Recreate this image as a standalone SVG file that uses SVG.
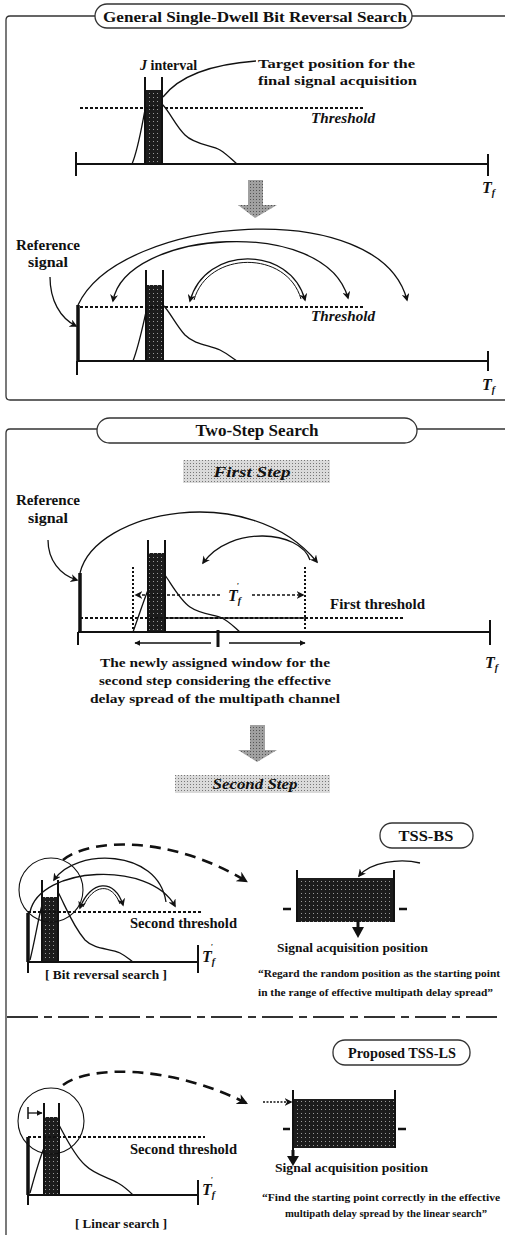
<svg xmlns="http://www.w3.org/2000/svg" width="505" height="1235" viewBox="0 0 505 1235">
<style>
.t{font-family:"Liberation Serif","Times New Roman",serif;font-weight:bold;fill:#111}
.i{font-style:italic}
.ln{fill:none;stroke:#111;stroke-width:1.3}
.ax{fill:none;stroke:#111;stroke-width:2}
.bar{fill:none;stroke:#111;stroke-width:3.5}
.th{fill:none;stroke:#111;stroke-width:2;stroke-dasharray:3 2}
.brd{fill:none;stroke:#333;stroke-width:1.3}
.pill{fill:#fff;stroke:#333;stroke-width:1.3}
.dash{fill:none;stroke:#111;stroke-width:2.6;stroke-dasharray:11 7}
</style>
<defs>
<pattern id="dk" width="4" height="4" patternUnits="userSpaceOnUse"><rect width="4" height="4" fill="#1c1c1c"/><rect x="1" y="1" width="1" height="1" fill="#9a9a9a"/></pattern>
<pattern id="gr" width="3" height="3" patternUnits="userSpaceOnUse"><rect width="3" height="3" fill="#a0a0a0"/><rect x="1" y="1" width="1" height="1" fill="#555"/></pattern>
<pattern id="lg" width="3" height="3" patternUnits="userSpaceOnUse"><rect width="3" height="3" fill="#dadada"/><rect x="1" y="1" width="1" height="1" fill="#777"/></pattern>
<marker id="ah" viewBox="0 0 10 10" refX="8" refY="5" markerWidth="8" markerHeight="8" orient="auto-start-reverse" markerUnits="userSpaceOnUse"><path d="M0,0 L10,5 L0,10 L3,5 z" fill="#111"/></marker>
<marker id="ahs" viewBox="0 0 10 10" refX="9" refY="5" markerWidth="6" markerHeight="6" orient="auto-start-reverse" markerUnits="userSpaceOnUse"><path d="M0,0 L10,5 L0,10 z" fill="#111"/></marker>
<marker id="ahb" viewBox="0 0 10 10" refX="8" refY="5" markerWidth="11" markerHeight="11" orient="auto-start-reverse" markerUnits="userSpaceOnUse"><path d="M0,0 L10,5 L0,10 L3,5 z" fill="#111"/></marker>
</defs>

<!-- Panel 1 -->
<g id="panel1">
<path class="brd" d="M95,16 H10 Q6,16 6,20 V396 Q6,400 10,400 H505 M412,16 H505"/>
<rect class="pill" x="95" y="4" width="317" height="24" rx="12"/>
<text class="t" x="255" y="22" font-size="15.5" text-anchor="middle" textLength="304" lengthAdjust="spacingAndGlyphs">General Single-Dwell Bit Reversal Search</text>
</g>

<g id="fig1a">
<rect x="145" y="90" width="17" height="74" fill="url(#dk)"/>
<path class="ax" d="M145,77 V164 M162,77 V164"/>
<path class="ax" d="M76,164 H488 M76,152 V176 M488,154 V176"/>
<path class="ln" d="M132,164 C138,150 142,125 145,110 M162,104 C170,112 175,125 185,135 C195,145 212,145 220,150 C228,155 232,160 237,164"/>
<path class="th" d="M80,108 H365"/>
<text class="t i" x="311" y="123" font-size="14" textLength="64" lengthAdjust="spacingAndGlyphs">Threshold</text>
<text class="t" x="140" y="70" font-size="14"><tspan font-style="italic">J</tspan> interval</text>
<text class="t" x="258" y="68" font-size="13" textLength="157" lengthAdjust="spacingAndGlyphs">Target position for the</text>
<text class="t" x="258" y="85" font-size="13" textLength="159" lengthAdjust="spacingAndGlyphs">final signal acquisition</text>
<path class="ln" d="M256,61 C215,64 180,75 163,97"/>
<text class="t i" x="482" y="193" font-size="16">T<tspan font-size="10" dy="3">f</tspan></text>
</g>

<g id="grayarrow1">
<path d="M248,180 H263 V205 H277 L255,218 L238,205 H248 Z" fill="url(#gr)"/>
</g>

<g id="fig1b">
<rect x="146" y="285" width="17" height="76" fill="url(#dk)"/>
<path class="ax" d="M146,270 V361 M163,270 V361"/>
<path class="bar" d="M78,305 V361"/>
<path class="ax" d="M77,361 H488 M77,361 V375 M488,351 V371"/>
<path class="ln" d="M133,361 C139,345 143,325 146,312 M163,305 C170,312 176,325 185,335 C195,345 210,345 220,350 C228,354 232,358 237,361"/>
<path class="th" d="M80,307 H365"/>
<text class="t i" x="311" y="321" font-size="14" textLength="64" lengthAdjust="spacingAndGlyphs">Threshold</text>
<text class="t" x="48" y="250" font-size="14" text-anchor="middle" textLength="64" lengthAdjust="spacingAndGlyphs">Reference</text>
<text class="t" x="48" y="267" font-size="14" text-anchor="middle" textLength="40" lengthAdjust="spacingAndGlyphs">signal</text>
<path class="ln" d="M50,277 C50,300 60,318 76,326" marker-end="url(#ah)"/>
<text class="t i" x="482" y="390" font-size="16">T<tspan font-size="10" dy="3">f</tspan></text>
</g>

<g id="connectors1">
<path class="ln" d="M78,305 C120,215 380,195 407,300" marker-end="url(#ah)"/>
<path class="ln" d="M113,301 C125,230 325,215 348,298" marker-start="url(#ah)" marker-end="url(#ah)"/>
<path class="ln" d="M190,301 C205,245 290,245 305,300" marker-start="url(#ah)" marker-end="url(#ah)"/>
<path fill="none" stroke="#111" stroke-width="1" d="M194,300 C208,250 287,250 301,299"/>
</g>

<!-- Panel 2 -->
<g id="panel2">
<path class="brd" d="M97,429 H10 Q6,429 6,433 V1235 M417,429 H505"/>
<rect class="pill" x="97" y="418" width="320" height="25" rx="12.5"/>
<text class="t" x="257" y="436" font-size="16" text-anchor="middle" textLength="123" lengthAdjust="spacingAndGlyphs">Two-Step Search</text>
</g>

<g id="firststep">
<rect x="183" y="460" width="147" height="23" fill="url(#lg)"/>
<text class="t i" x="252" y="477" font-size="15" text-anchor="middle" textLength="77" lengthAdjust="spacingAndGlyphs">First Step</text>
</g>

<g id="fig2a">
<rect x="148" y="553" width="17" height="79" fill="url(#dk)"/>
<path class="ax" d="M148,540 V632 M165,540 V632"/>
<path class="bar" d="M80,573 V632"/>
<path class="ax" d="M78,632 H490 M78,632 V645 M490,620 V645"/>
<path class="ln" d="M133,632 C139,615 144,600 148,590 M165,575 C172,585 180,600 190,607 C200,614 215,615 222,618 C230,622 235,628 240,632"/>
<path class="th" d="M80,618 H405"/>
<path d="M165,618 H305" stroke="#111" stroke-width="1.5"/>
<path d="M133,567 V632 M305,567 V632" fill="none" stroke="#111" stroke-width="2" stroke-dasharray="2 2"/>
<path d="M220,595 H136" fill="none" stroke="#111" stroke-width="1.6" stroke-dasharray="3 2" marker-end="url(#ah)"/>
<path d="M252,595 H303" fill="none" stroke="#111" stroke-width="1.6" stroke-dasharray="3 2" marker-end="url(#ah)"/>
<text class="t i" x="228" y="601" font-size="16">T<tspan font-size="10" dy="3">f</tspan><tspan font-size="9" dx="-5" dy="-15">'</tspan></text>
<text class="t" x="330" y="609" font-size="14" textLength="95" lengthAdjust="spacingAndGlyphs">First threshold</text>
<path class="ln" d="M135,643 H211 M229,643 H305" marker-start="url(#ahs)" marker-end="url(#ahs)"/>
<path d="M218,630 V647" stroke="#111" stroke-width="3"/>
<text class="t" x="215" y="667" font-size="13.5" text-anchor="middle" textLength="230" lengthAdjust="spacingAndGlyphs">The newly assigned window for the</text>
<text class="t" x="215" y="685" font-size="13.5" text-anchor="middle" textLength="232" lengthAdjust="spacingAndGlyphs">second step considering the effective</text>
<text class="t" x="215" y="703" font-size="13.5" text-anchor="middle" textLength="250" lengthAdjust="spacingAndGlyphs">delay spread of the multipath channel</text>
<text class="t" x="48" y="505" font-size="14" text-anchor="middle" textLength="64" lengthAdjust="spacingAndGlyphs">Reference</text>
<text class="t" x="48" y="523" font-size="14" text-anchor="middle" textLength="40" lengthAdjust="spacingAndGlyphs">signal</text>
<path class="ln" d="M48,540 C48,560 60,575 77,580" marker-end="url(#ah)"/>
<text class="t i" x="485" y="668" font-size="16">T<tspan font-size="10" dy="3">f</tspan></text>
</g>

<g id="connectors2">
<path class="ln" d="M80,573 C95,510 250,480 317,562" marker-end="url(#ah)"/>
<path class="ln" d="M310,560 C300,530 230,525 203,563" marker-end="url(#ah)"/>
</g>

<g id="grayarrow2">
<path d="M250,725 H265 V750 H277 L257,762 L238,750 H250 Z" fill="url(#gr)"/>
</g>

<g id="secondstep">
<rect x="175" y="775" width="155" height="18" fill="url(#lg)"/>
<text class="t i" x="255" y="789" font-size="15" text-anchor="middle" textLength="85" lengthAdjust="spacingAndGlyphs">Second Step</text>
</g>

<g id="tssbs">
<rect class="pill" x="380" y="823" width="93" height="25" rx="12"/>
<text class="t" x="426" y="841" font-size="15" text-anchor="middle" textLength="55" lengthAdjust="spacingAndGlyphs">TSS-BS</text>
</g>

<g id="bs-left">
<rect x="42" y="897" width="16" height="65" fill="url(#dk)"/>
<path class="ax" d="M42,880 V962 M58,880 V962"/>
<path class="bar" d="M28,913 V962"/>
<path class="ax" d="M28,962 H198 M28,962 V973 M198,945 V973"/>
<path class="ln" d="M30,960 C35,940 38,920 42,905 M58,892 C65,905 72,925 85,940 C95,950 110,948 120,953 C126,956 130,960 133,962"/>
<path class="th" d="M28,912 H203"/>
<text class="t" x="130" y="928" font-size="14" textLength="107" lengthAdjust="spacingAndGlyphs">Second threshold</text>
<text class="t i" x="202" y="962" font-size="16">T<tspan font-size="10" dy="3">f</tspan><tspan font-size="9" dx="-5" dy="-15">'</tspan></text>
<circle cx="51" cy="890" r="32" fill="none" stroke="#111" stroke-width="1.1"/>
<path class="ln" d="M30,912 C40,866 150,860 175,906" marker-end="url(#ah)"/>
<path class="ln" d="M166,902 C158,848 75,848 54,880" marker-end="url(#ah)"/>
<path class="ln" d="M80,908 C90,880 115,878 123,905" marker-start="url(#ah)" marker-end="url(#ah)"/>
<path fill="none" stroke="#111" stroke-width="1" d="M83,907 C93,884 112,882 120,904"/>
<path class="dash" d="M63,860 C90,838 170,835 246,881" marker-end="url(#ahb)"/>
<text class="t" x="45" y="979" font-size="13.5" textLength="122" lengthAdjust="spacingAndGlyphs">[ Bit reversal search ]</text>
</g>

<g id="bs-right">
<rect x="297" y="878" width="97" height="44" fill="url(#dk)"/>
<path class="ax" d="M297,870 V922 M394,870 V922"/>
<path d="M283,909 H291 M399,909 H407" stroke="#111" stroke-width="2.5"/>
<path d="M358,920 V929" stroke="#111" stroke-width="3"/>
<path d="M352,927 H364 L358,938 Z" fill="#111"/>
<path class="ln" d="M420,863 C400,858 370,862 359,876" marker-end="url(#ah)"/>
<text class="t" x="277" y="952" font-size="13.5" textLength="151" lengthAdjust="spacingAndGlyphs">Signal acquisition position</text>
<text class="t" x="258" y="977" font-size="11" textLength="242" lengthAdjust="spacingAndGlyphs">“Regard the random position as the starting point</text>
<text class="t" x="258" y="996" font-size="11" textLength="235" lengthAdjust="spacingAndGlyphs">in the range of effective multipath delay spread”</text>
</g>

<g id="separator">
<path d="M7,1017 H500" fill="none" stroke="#333" stroke-width="2" stroke-dasharray="31 6 8 6"/>
</g>

<g id="tssls">
<rect class="pill" x="333" y="1040" width="137" height="25" rx="12"/>
<text class="t" x="402" y="1058" font-size="15" text-anchor="middle" textLength="108" lengthAdjust="spacingAndGlyphs">Proposed TSS-LS</text>
</g>

<g id="ls-left">
<rect x="44" y="1117" width="15" height="78" fill="url(#dk)"/>
<path class="ax" d="M44,1103 V1195 M59,1103 V1195"/>
<path class="bar" d="M28,1137 V1195"/>
<path class="ax" d="M28,1195 H198 M28,1195 V1205 M198,1180 V1205"/>
<path class="ln" d="M30,1193 C35,1175 39,1160 44,1148 M59,1125 C66,1138 74,1155 85,1165 C95,1175 110,1178 118,1183 C125,1187 130,1192 133,1195"/>
<path class="th" d="M28,1137 H205"/>
<text class="t" x="130" y="1154" font-size="14" textLength="107" lengthAdjust="spacingAndGlyphs">Second threshold</text>
<text class="t i" x="202" y="1195" font-size="16">T<tspan font-size="10" dy="3">f</tspan><tspan font-size="9" dx="-5" dy="-15">'</tspan></text>
<circle cx="51" cy="1121" r="33" fill="none" stroke="#111" stroke-width="1.1"/>
<path d="M28,1107 V1119" stroke="#111" stroke-width="1.5"/>
<path class="ln" d="M28,1113 H42" marker-end="url(#ahs)"/>
<path class="dash" d="M63,1085 C90,1065 170,1065 246,1103" marker-end="url(#ahb)"/>
<text class="t" x="75" y="1228" font-size="13.5" textLength="92" lengthAdjust="spacingAndGlyphs">[ Linear search ]</text>
</g>

<g id="ls-right">
<rect x="293" y="1099" width="102" height="49" fill="url(#dk)"/>
<path class="ax" d="M293,1090 V1152 M395,1090 V1148"/>
<path d="M283,1129 H290 M398,1129 H406" stroke="#111" stroke-width="2.5"/>
<path d="M293,1150 V1158" stroke="#111" stroke-width="3"/>
<path d="M287,1156 H299 L293,1166 Z" fill="#111"/>
<path d="M263,1102 H291" fill="none" stroke="#111" stroke-width="1.3" stroke-dasharray="2 1.5" marker-end="url(#ah)"/>
<text class="t" x="275" y="1172" font-size="13.5" textLength="153" lengthAdjust="spacingAndGlyphs">Signal acquisition position</text>
<text class="t" x="262" y="1201" font-size="11" textLength="238" lengthAdjust="spacingAndGlyphs">“Find the starting point correctly in the effective</text>
<text class="t" x="285" y="1217" font-size="11" textLength="202" lengthAdjust="spacingAndGlyphs">multipath delay spread by the linear search”</text>
</g>
</svg>
